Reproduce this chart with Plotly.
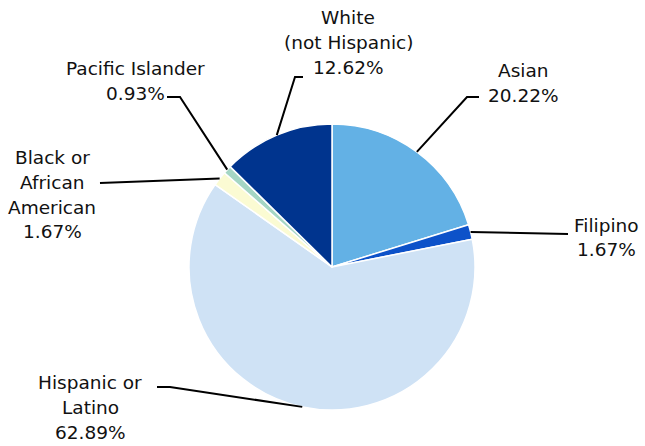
import math
import plotly.graph_objects as go

# ---- data ----
categories = ["Asian", "Filipino", "Hispanic or Latino", "Black or African American",
              "Pacific Islander", "White (not Hispanic)"]
percentages = [20.22, 1.67, 62.89, 1.67, 0.93, 12.62]
label_lines = [["Asian"], ["Filipino"], ["Hispanic or", "Latino"],
               ["Black or", "African", "American"], ["Pacific Islander"],
               ["White", "(not Hispanic)"]]
colors = ["#63b1e5", "#0d52c9", "#cfe2f5", "#fbfbd3", "#a5d6c4", "#00348e"]

# ---- layout constants (pixels) ----
W, H = 645, 446
CX, CY, R = 332, 267, 143
FONT = dict(family="DejaVu Sans", size=18.5, color="#111111")
LINE_H = 25
# label block: (center x, y of first line); leader: elbow point, end point
label_pos = [(523, 70), (606, 225), (90, 382), (52, 157), (135, 68), (348, 17)]
leader = [[(467, 97), (479, 97)],
          [(568, 234)],
          [(170, 387), (157, 387)],
          [(100, 183)],
          [(180, 97), (167, 97)],
          [(295, 77), (303, 77)]]

def px(x, y):
    return x / W, 1 - y / H

x0, y1 = px(CX - R, CY - R)
x1, y0 = px(CX + R, CY + R)

fig = go.Figure(go.Pie(
    labels=categories, values=percentages, sort=False, direction="clockwise",
    rotation=0, marker=dict(colors=colors, line=dict(color="white", width=1.5)),
    textinfo="none", hoverinfo="label+percent",
    domain=dict(x=[x0, x1], y=[y0, y1]),
))

annotations = []
shapes = []
total = sum(percentages)
cum = 0.0
for i, (cat, v) in enumerate(zip(categories, percentages)):
    mid = (cum + v / 2) / total
    cum += v
    ang = 2 * math.pi * mid
    ex, ey = CX + R * math.sin(ang), CY - R * math.cos(ang)
    pts = [(ex, ey)] + leader[i]
    path = ""
    for j, (a, b) in enumerate(pts):
        xp, yp = px(a, b)
        path += ("M" if j == 0 else " L") + f" {xp} {yp}"
    shapes.append(dict(type="path", path=path, xref="paper", yref="paper",
                       line=dict(color="black", width=2)))
    lx, ly = label_pos[i]
    lines = label_lines[i] + [f"{v:.2f}%"]
    for k, t in enumerate(lines):
        xp, yp = px(lx, ly + k * LINE_H)
        annotations.append(dict(text=t, x=xp, y=yp, xref="paper", yref="paper",
                                xanchor="center", yanchor="middle", showarrow=False,
                                font=FONT))

fig.update_layout(
    width=W, height=H, margin=dict(l=0, r=0, t=0, b=0),
    showlegend=False, paper_bgcolor="white", plot_bgcolor="white",
    annotations=annotations, shapes=shapes,
)
fig.write_html("out.html", config={"displayModeBar": False},
               post_script="document.body.style.margin='0';document.body.style.overflow='hidden';")
